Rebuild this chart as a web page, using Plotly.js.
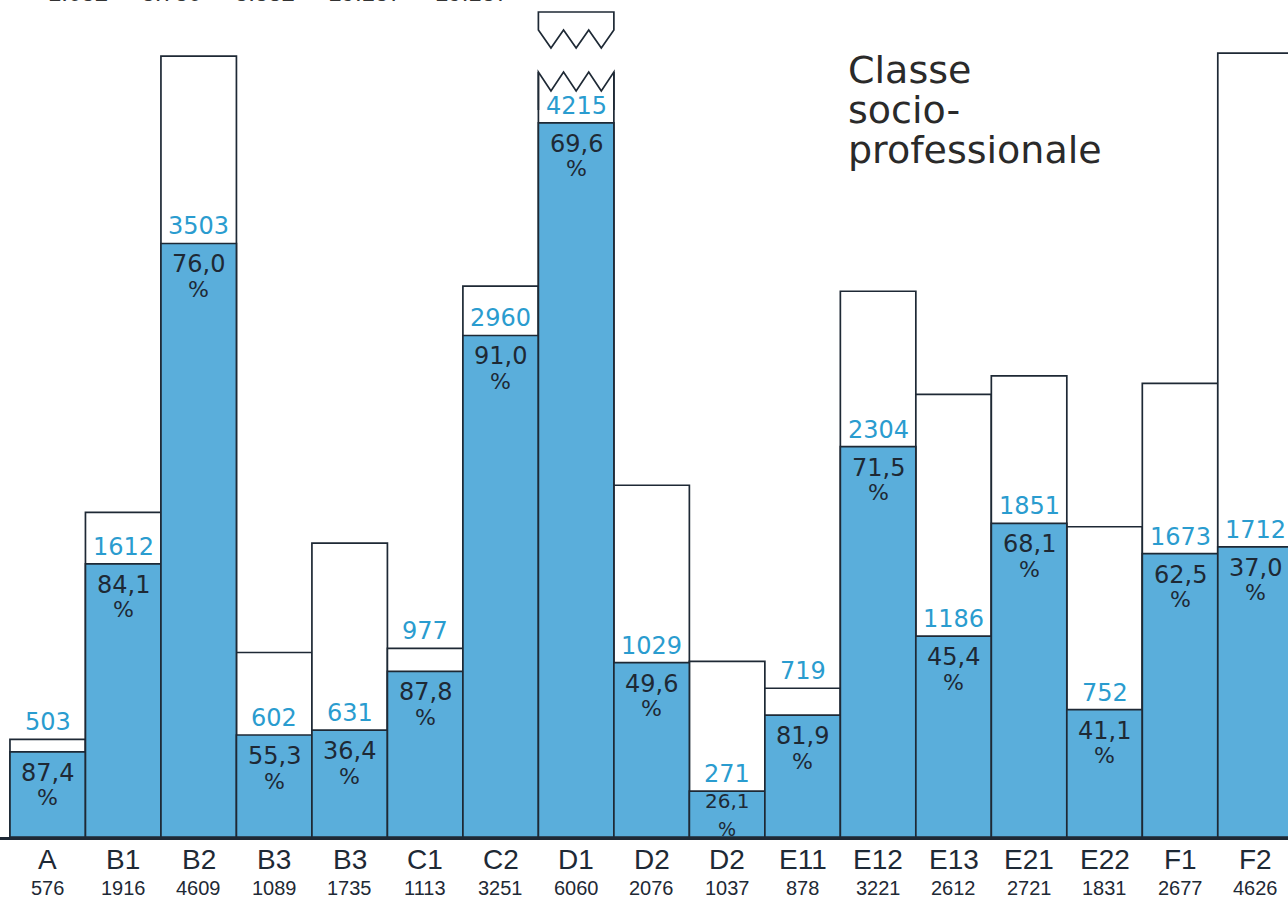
<!DOCTYPE html>
<html>
<head>
<meta charset="utf-8">
<script src="https://cdn.plot.ly/plotly-3.0.1.min.js"></script>
<style>html,body{margin:0;padding:0;background:#fff;}#chart{width:1288px;height:910px;}</style>
</head>
<body>
<div id="chart"></div>
<script>
// ---- data ----
const categories = ["A","B1","B2","B3","B3","C1","C2","D1","D2","D2","E11","E12","E13","E21","E22","F1","F2"];
const totals     = [576,1916,4609,1089,1735,1113,3251,6060,2076,1037,878,3221,2612,2721,1831,2677,4626];
const filled     = [503,1612,3503,602,631,977,2960,4215,1029,271,719,2304,1186,1851,752,1673,1712];
const percents   = [87.4,84.1,76.0,55.3,36.4,87.8,91.0,69.6,49.6,26.1,81.9,71.5,45.4,68.1,41.1,62.5,37.0];
const titleLines = ["Classe","socio-","professionale"];
const topFragment = "1.032     3.730     3.382     19.137     19.137";

// ---- styling ----
const BLUE = "#5aaedb";
const CYAN = "#2a9ccf";
const INK  = "#1e2935";
const SANS = "Liberation Sans, Arial, Helvetica, sans-serif";
const WIDE = "DejaVu Sans, Liberation Sans, sans-serif";
const PLOT_H = 837;
const YMAX = 4940;
const idx = categories.map((_, i) => i);
const fmt = v => v.toFixed(1).replace(".", ",");
const pxToVal = py => (PLOT_H - py) / PLOT_H * YMAX;

const traces = [
  { type: "bar", x: idx, y: totals, width: 1,
    marker: { color: "#ffffff", line: { color: INK, width: 1.7 } },
    hoverinfo: "skip", cliponaxis: true },
  { type: "bar", x: idx, y: filled, width: 1,
    marker: { color: BLUE, line: { color: INK, width: 1.7 } },
    hoverinfo: "skip", cliponaxis: true }
];

const annotations = [];
idx.forEach(i => {
  const gap = totals[i] - filled[i];
  const labelBase = gap < 180 ? totals[i] : filled[i];
  const hPx = filled[i] / YMAX * PLOT_H;           // pixel height of the blue part
  const tight = hPx < 60;
  annotations.push({ x: i, y: labelBase, xref: "x", yref: "y", text: String(filled[i]),
    showarrow: false, yanchor: "middle", yshift: 17,
    font: { family: WIDE, size: 24, color: CYAN } });
  annotations.push({ x: i, y: filled[i], xref: "x", yref: "y",
    text: fmt(percents[i]), borderpad: 0,
    showarrow: false, yanchor: "middle", yshift: tight ? -10 : -21,
    font: { family: WIDE, size: tight ? 20 : 24, color: INK } });
  annotations.push({ x: i, y: filled[i], xref: "x", yref: "y",
    text: "%", borderpad: 0,
    showarrow: false, yanchor: "middle", yshift: tight ? -38 : -46,
    font: { family: WIDE, size: tight ? 19 : 22, color: INK } });
  annotations.push({ x: i, y: 0, xref: "x", yref: "paper", text: categories[i],
    showarrow: false, yanchor: "middle", yshift: -22,
    font: { family: SANS, size: 28, color: INK } });
  annotations.push({ x: i, y: 0, xref: "x", yref: "paper", text: String(totals[i]),
    showarrow: false, yanchor: "middle", yshift: -51,
    font: { family: SANS, size: 20, color: INK } });
});
titleLines.forEach((t, k) => {
  annotations.push({ x: 846/1288, y: 1 - (70 + 40*k)/PLOT_H, xref: "paper", yref: "paper",
    text: t, showarrow: false, xanchor: "left", yanchor: "middle",
    font: { family: WIDE, size: 38, color: "#2a2a2a" } });
});
annotations.push({ x: 46/1288, y: 1 - 8/PLOT_H, xref: "paper", yref: "paper",
  text: topFragment, showarrow: false, xanchor: "left", yanchor: "bottom",
  font: { family: SANS, size: 24, color: "#333" } });

// ---- broken D1 bar decoration ----
const d = categories.indexOf("D1");
const x0 = d - 0.5, x1 = d + 0.5;
const lowPeak = pxToVal(72), lowValley = pxToVal(91);
const upTop = pxToVal(12), upPeak = pxToVal(30), upValley = pxToVal(48);
function zigPoints(peak, valley) {
  const n = 6, pts = [];
  for (let k = 0; k <= n; k++) {
    pts.push([x0 + (x1 - x0) * k / n, (k % 2 === 0) ? peak : valley]);
  }
  return pts;
}
const lowPts = zigPoints(lowPeak, lowValley);
const upPts = zigPoints(upPeak, upValley);
const seg = pts => pts.map(p => " L " + p[0] + "," + p[1]).join("");
const shapes = [
  { type: "path", xref: "x", yref: "y", layer: "above",
    path: "M " + (x0 - 0.02) + "," + lowPeak + seg(lowPts) + " L " + (x1 + 0.02) + "," + lowPeak +
          " L " + (x1 + 0.02) + "," + (YMAX + 100) + " L " + (x0 - 0.02) + "," + (YMAX + 100) + " Z",
    fillcolor: "#ffffff", line: { width: 0 } },
  { type: "path", xref: "x", yref: "y", layer: "above",
    path: "M " + x0 + "," + pxToVal(110) + " L " + x0 + "," + lowPeak + seg(lowPts) + " L " + x1 + "," + pxToVal(110),
    line: { color: INK, width: 1.7 } },
  { type: "path", xref: "x", yref: "y", layer: "above",
    path: "M " + x0 + "," + upPeak + " L " + x0 + "," + upTop + " L " + x1 + "," + upTop +
          seg(upPts.slice().reverse()) + " Z",
    fillcolor: "#ffffff", line: { color: INK, width: 1.7 } }
];

const layout = {
  width: 1288, height: 910,
  margin: { l: 0, r: 0, t: 0, b: 910 - PLOT_H, pad: 0 },
  paper_bgcolor: "#ffffff", plot_bgcolor: "#ffffff",
  barmode: "overlay", bargap: 0, showlegend: false,
  xaxis: { range: [-0.632, 16.43], tickvals: idx, showticklabels: false, ticks: "",
    showgrid: false, zeroline: false, showline: true, linecolor: INK, linewidth: 3,
    fixedrange: true },
  yaxis: { range: [0, YMAX], visible: false, showgrid: false, zeroline: false, fixedrange: true },
  annotations: annotations,
  shapes: shapes
};

Plotly.newPlot("chart", traces, layout, { displayModeBar: false, staticPlot: true });
</script>
</body>
</html>
